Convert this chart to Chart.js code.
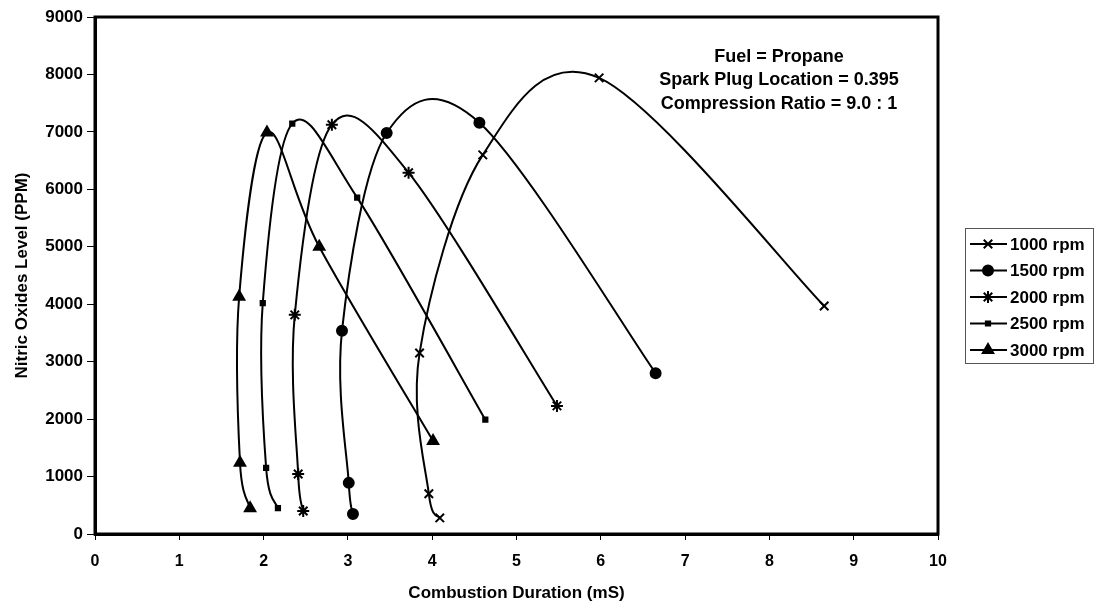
<!DOCTYPE html>
<html>
<head>
<meta charset="utf-8">
<script src="https://cdn.jsdelivr.net/npm/chart.js@4/dist/chart.umd.min.js"></script>
<style>
  html, body { margin: 0; padding: 0; background: #fff; }
  #wrap { width: 1100px; height: 608px; }
</style>
</head>
<body>
<div id="wrap"><canvas id="grafico" width="1100" height="608"></canvas></div>
<script>
// Datos (x = duracion en mS, y = NOx en PPM), en orden de trazo
const seriesNames = ['1000 rpm', '1500 rpm', '2000 rpm', '2500 rpm', '3000 rpm'];

const rpm1000X = [4.09, 3.96, 3.85, 4.60, 5.98, 8.65];
const rpm1000Y = [280, 700, 3150, 6600, 7940, 3970];

const rpm1500X = [3.06, 3.01, 2.93, 3.46, 4.56, 6.65];
const rpm1500Y = [350, 890, 3540, 6980, 7160, 2800];

const rpm2000X = [2.47, 2.41, 2.37, 2.81, 3.72, 5.48];
const rpm2000Y = [400, 1045, 3815, 7125, 6290, 2230];

const rpm2500X = [2.17, 2.03, 1.99, 2.34, 3.11, 4.63];
const rpm2500Y = [450, 1150, 4020, 7145, 5855, 1990];

const rpm3000X = [1.84, 1.72, 1.71, 2.04, 2.66, 4.01];
const rpm3000Y = [450, 1240, 4130, 6990, 5000, 1620];

const xTicks = [0, 1, 2, 3, 4, 5, 6, 7, 8, 9, 10];
const yTicks = [0, 1000, 2000, 3000, 4000, 5000, 6000, 7000, 8000, 9000];

const notas = ['Fuel = Propane', 'Spark Plug Location = 0.395', 'Compression Ratio = 9.0 : 1'];

// Estilo de marcadores por serie
const marcadores = [
  { style: 'crossRot', radius: 6 },
  { style: 'circle', radius: 5 },
  { style: 'star', radius: 6 },
  { style: 'rect', radius: 3 },
  { style: 'triangle', radius: 6 }
];

const FONT = '"Liberation Sans", Arial, sans-serif';

function puntos(xs, ys) {
  return xs.map((x, i) => ({ x: x, y: ys[i] }));
}

const todos = [
  puntos(rpm1000X, rpm1000Y),
  puntos(rpm1500X, rpm1500Y),
  puntos(rpm2000X, rpm2000Y),
  puntos(rpm2500X, rpm2500Y),
  puntos(rpm3000X, rpm3000Y)
];

const datasets = todos.map((d, i) => ({
  label: seriesNames[i],
  data: d,
  showLine: true,
  tension: 0.4,
  borderColor: '#000',
  borderWidth: 2,
  backgroundColor: '#000',
  pointStyle: marcadores[i].style,
  pointRadius: marcadores[i].radius,
  pointBorderWidth: 2,
  pointBorderColor: '#000',
  pointBackgroundColor: '#000'
}));

// Suavizado tipo Catmull-Rom (como Excel) sobre los puntos ya escalados
const suavizado = {
  id: 'suavizado',
  beforeDatasetsDraw(chart) {
    chart.data.datasets.forEach((ds, di) => {
      const meta = chart.getDatasetMeta(di);
      const linea = meta.dataset;
      if (!linea) return;
      linea.updateControlPoints(chart.chartArea, 'x');
      const pts = meta.data;
      const n = pts.length;
      for (let i = 0; i < n; i++) {
        const p = pts[i];
        const prev = pts[i - 1] || p;
        const next = pts[i + 1] || p;
        const dx = (next.x - prev.x) / 6;
        const dy = (next.y - prev.y) / 6;
        p.cp1x = p.x - dx; p.cp1y = p.y - dy;
        p.cp2x = p.x + dx; p.cp2y = p.y + dy;
      }
    });
  }
};

// Marco completo del area de trazado
const marco = {
  id: 'marco',
  afterDatasetsDraw(chart) {
    const a = chart.chartArea;
    const ctx = chart.ctx;
    ctx.save();
    ctx.strokeStyle = '#000';
    ctx.lineWidth = 3;
    ctx.strokeRect(a.left, a.top, a.right - a.left, a.bottom - a.top);
    ctx.restore();
  }
};

// Texto de condiciones
const anotacion = {
  id: 'anotacion',
  afterDraw(chart) {
    const ctx = chart.ctx;
    ctx.save();
    ctx.fillStyle = '#000';
    ctx.font = 'bold 18px ' + FONT;
    ctx.textAlign = 'center';
    ctx.textBaseline = 'middle';
    notas.forEach((t, i) => ctx.fillText(t, 779, 57 + i * 23.5));
    ctx.restore();
  }
};

// Leyenda con linea + marcador, en caja
const leyenda = {
  id: 'leyenda',
  afterDraw(chart) {
    const ctx = chart.ctx;
    ctx.save();
    ctx.strokeStyle = '#555';
    ctx.lineWidth = 1;
    ctx.strokeRect(965.5, 228.5, 128, 135);
    chart.data.datasets.forEach((ds, i) => {
      const y = 244 + i * 26.5;
      ctx.strokeStyle = '#000';
      ctx.lineWidth = 2;
      ctx.beginPath();
      ctx.moveTo(970, y);
      ctx.lineTo(1007, y);
      ctx.stroke();
      Chart.helpers.drawPoint(ctx, {
        pointStyle: ds.pointStyle,
        radius: ds.pointRadius,
        borderWidth: 2,
        rotation: 0
      }, 988, y);
      ctx.fillStyle = '#000';
      ctx.font = 'bold 17px ' + FONT;
      ctx.textAlign = 'left';
      ctx.textBaseline = 'middle';
      ctx.fillText(ds.label, 1010, y + 1);
    });
    ctx.restore();
  }
};

new Chart(document.getElementById('grafico'), {
  type: 'scatter',
  data: { datasets: datasets },
  options: {
    responsive: false,
    animation: false,
    layout: { padding: { top: 17, right: 162, left: 0, bottom: 0 } },
    plugins: {
      legend: { display: false },
      tooltip: { enabled: false }
    },
    scales: {
      x: {
        type: 'linear',
        min: 0,
        max: 10,
        afterBuildTicks: s => { s.ticks = xTicks.map(v => ({ value: v })); },
        afterFit: s => { s.height = 74; },
        border: { display: true, color: '#000', width: 3 },
        grid: { drawOnChartArea: false, color: '#000', tickLength: 6, tickWidth: 1 },
        ticks: { color: '#000', font: { family: FONT, size: 16, weight: 'bold' }, padding: 12, maxRotation: 0 },
        title: { display: true, text: 'Combustion Duration (mS)', color: '#000', font: { family: FONT, size: 17, weight: 'bold' }, padding: { top: 4, bottom: 4 } }
      },
      y: {
        type: 'linear',
        min: 0,
        max: 9000,
        afterBuildTicks: s => { s.ticks = yTicks.map(v => ({ value: v })); },
        afterFit: s => { s.width = 95; },
        border: { display: true, color: '#000', width: 3 },
        grid: { drawOnChartArea: false, color: '#000', tickLength: 8, tickWidth: 1 },
        ticks: { color: '#000', font: { family: FONT, size: 17, weight: 'bold' }, padding: 4, callback: v => String(v) },
        title: { display: true, text: 'Nitric Oxides Level (PPM)', color: '#000', font: { family: FONT, size: 17, weight: 'bold' }, padding: { top: 12, bottom: 12 } }
      }
    }
  },
  plugins: [suavizado, marco, anotacion, leyenda]
});
</script>
</body>
</html>
